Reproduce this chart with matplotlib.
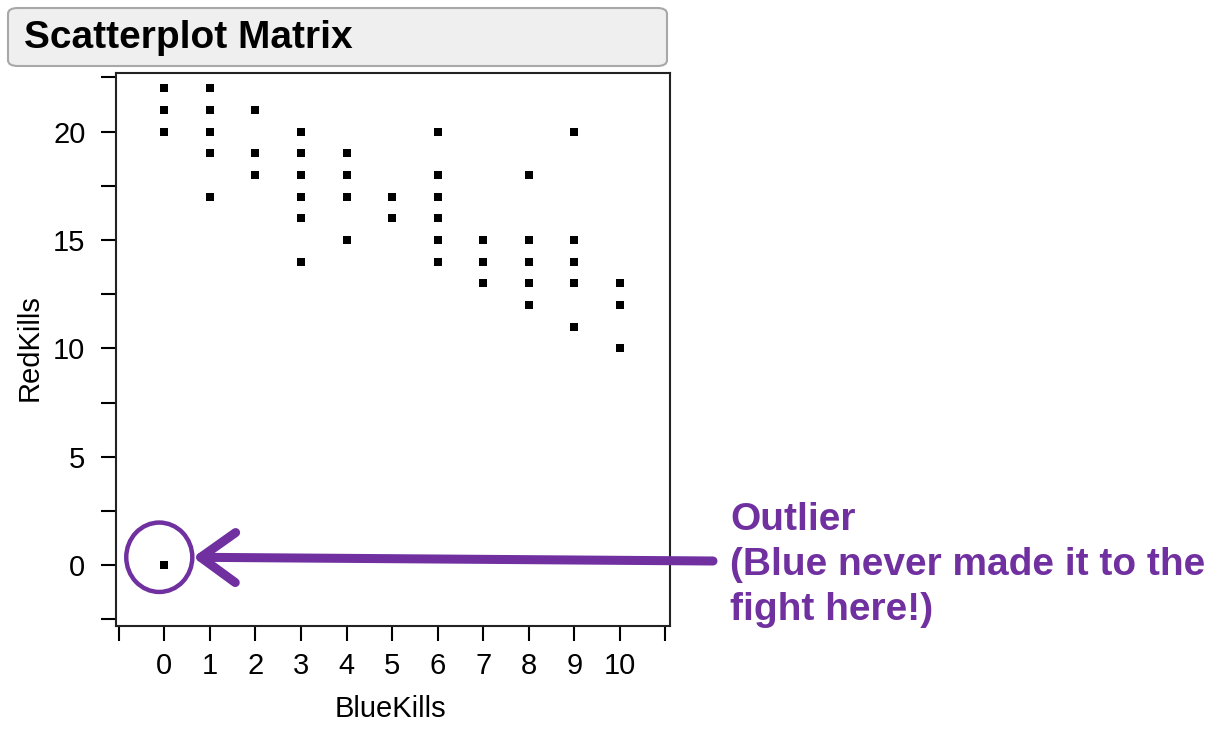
import matplotlib
matplotlib.use("Agg")
import matplotlib.pyplot as plt
from matplotlib.patches import FancyBboxPatch, Ellipse, ArrowStyle

plt.rcParams['font.family'] = ['Liberation Sans', 'DejaVu Sans']

# Data: BlueKills (x) vs RedKills (y)
blue_kills = [0, 0, 0, 0,
              1, 1, 1, 1, 1,
              2, 2, 2,
              3, 3, 3, 3, 3, 3,
              4, 4, 4, 4,
              5, 5,
              6, 6, 6, 6, 6, 6,
              7, 7, 7,
              8, 8, 8, 8, 8,
              9, 9, 9, 9, 9,
              10, 10, 10]
red_kills = [22, 21, 20, 0,
             22, 21, 20, 19, 17,
             21, 19, 18,
             20, 19, 18, 17, 16, 14,
             19, 18, 17, 15,
             17, 16,
             20, 18, 17, 16, 15, 14,
             15, 14, 13,
             18, 15, 14, 13, 12,
             20, 15, 14, 13, 11,
             13, 12, 10]
x_ticks = list(range(-1, 12))
x_tick_labels = [''] + [str(v) for v in range(0, 11)] + ['']
y_ticks = [-2.5, 0, 2.5, 5, 7.5, 10, 12.5, 15, 17.5, 20, 22.5]
y_tick_labels = ['', '0', '', '5', '', '10', '', '15', '', '20', '']
outlier = (0, 0)

W, H = 1225, 730
fig = plt.figure(figsize=(W / 100, H / 100), dpi=100)
fig.patch.set_facecolor('white')

def fx(px):
    return px / W

def fy(py):
    return 1 - py / H

PURPLE = '#7030A0'

# Title box
box = FancyBboxPatch((fx(8), fy(66)), fx(659), 58 / H,
                     boxstyle="round,pad=0,rounding_size=0.008",
                     transform=fig.transFigure, facecolor='#efefef',
                     edgecolor='#a8a8a8', linewidth=1.5, zorder=1)
fig.patches.append(box)
fig.text(fx(24), fy(38), 'Scatterplot Matrix', fontsize=28, fontweight='bold',
         ha='left', va='center', color='black')

ax = fig.add_axes([fx(116), fy(626), fx(670) - fx(116), fy(73) - fy(626)])
ax.scatter(blue_kills, red_kills, marker='s', s=32, color='black',
           linewidths=0, zorder=3)
ax.set_xlim(-1.06, 11.1)
ax.set_ylim(-2.8, 22.7)
ax.set_xticks(x_ticks)
ax.set_xticklabels(x_tick_labels)
ax.set_yticks(y_ticks)
ax.set_yticklabels(y_tick_labels)
ax.tick_params(axis='both', direction='out', length=11, width=1.5,
               labelsize=21, pad=8, colors='black')
ax.tick_params(axis='y', pad=11)
for sp in ax.spines.values():
    sp.set_linewidth(1.5)
    sp.set_color('#222222')
ax.set_xlabel('BlueKills', fontsize=21)
ax.set_ylabel('RedKills', fontsize=21)
ax.xaxis.set_label_coords((390 - 116) / (670 - 116), -(695 - 626) / (626 - 73))
ax.yaxis.set_label_coords(-(116 - 44) / (670 - 116), (626 - 348) / (626 - 73))

# Circle around the outlier
circ = Ellipse((outlier[0] - 0.11, outlier[1] + 0.37), width=1.45, height=3.2,
               fill=False, edgecolor=PURPLE, linewidth=3.2, zorder=4,
               clip_on=False)
ax.add_patch(circ)

# Arrow pointing to the outlier
ax.annotate('', xy=(outlier[0] + 0.63, outlier[1] + 0.37), xycoords='data',
            xytext=(fx(713), fy(561)), textcoords='figure fraction',
            arrowprops=dict(arrowstyle=ArrowStyle("->", head_length=2.5, head_width=1.8),
                            mutation_scale=10, color=PURPLE, linewidth=6.5,
                            capstyle='round', joinstyle='round',
                            shrinkA=0, shrinkB=0),
            annotation_clip=False, zorder=5)

fig.text(fx(730), fy(502), 'Outlier\n(Blue never made it to the\nfight here!)',
         fontsize=28, fontweight='bold', color=PURPLE, ha='left', va='top',
         linespacing=1.33)

fig.savefig('out.png', dpi=100, facecolor='white')
